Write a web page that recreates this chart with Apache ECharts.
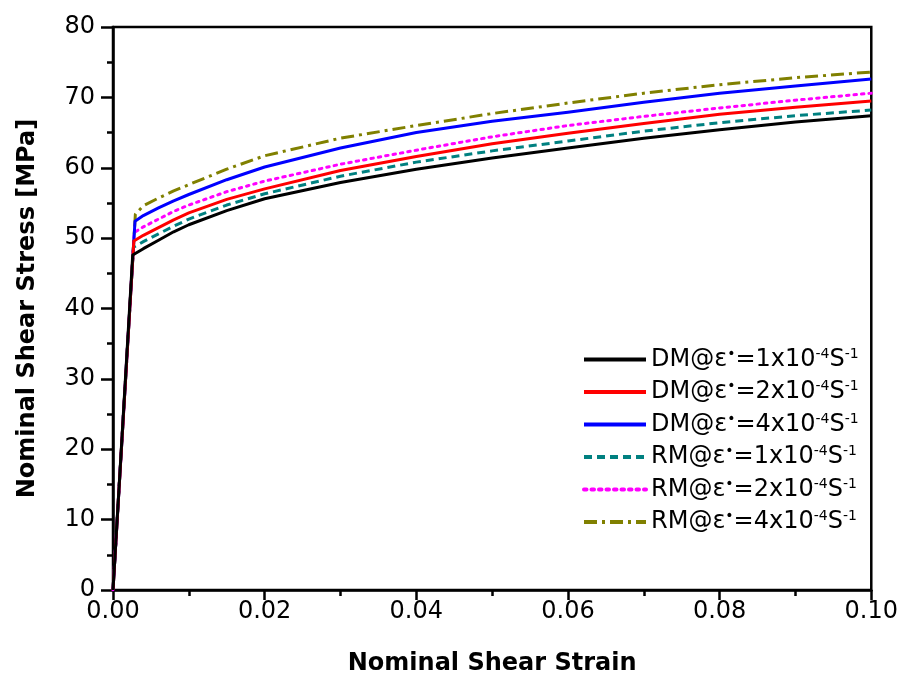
<!DOCTYPE html>
<html><head><meta charset="utf-8">
<script src="https://cdn.jsdelivr.net/npm/echarts@6/dist/echarts.min.js"></script>
<style>html,body{margin:0;padding:0;background:#fff}#c{width:901px;height:684px}</style>
</head><body><div id="c"></div>
<script>
// shared strain points after yield
const strain = [0.004, 0.006, 0.008, 0.01, 0.015, 0.02, 0.03, 0.04, 0.05, 0.06, 0.07, 0.08, 0.09, 0.1];
const seriesNames = ['DM 1e-4', 'DM 2e-4', 'DM 4e-4', 'RM 1e-4', 'RM 2e-4', 'RM 4e-4'];
const legendModel = ['DM', 'DM', 'DM', 'RM', 'RM', 'RM'];
const legendRate = ['1', '2', '4', '1', '2', '4'];
// yield (knee) points
const kneeStrain = [0.0026, 0.00275, 0.0029, 0.0027, 0.0028, 0.00295];
const kneeStress = [47.6, 49.6, 52.4, 48.7, 50.8, 53.4];
// stresses at the shared strain points
const dm1 = [48.5, 49.7, 50.9, 51.9, 53.9, 55.6, 57.9, 59.8, 61.4, 62.8, 64.2, 65.4, 66.5, 67.4];
const dm2 = [50.4, 51.5, 52.6, 53.6, 55.5, 57.0, 59.6, 61.6, 63.4, 64.9, 66.3, 67.6, 68.6, 69.5];
const dm4 = [53.2, 54.3, 55.3, 56.2, 58.3, 60.1, 62.8, 65.0, 66.6, 67.9, 69.3, 70.6, 71.6, 72.6];
const rm1 = [49.5, 50.6, 51.7, 52.7, 54.7, 56.3, 58.8, 60.8, 62.4, 63.8, 65.2, 66.4, 67.4, 68.2];
const rm2 = [51.6, 52.7, 53.8, 54.7, 56.6, 58.1, 60.5, 62.5, 64.4, 66.0, 67.3, 68.5, 69.6, 70.6];
const rm4 = [54.6, 55.7, 56.7, 57.6, 59.8, 61.7, 64.2, 66.0, 67.7, 69.2, 70.6, 71.8, 72.8, 73.6];
const allVals = [dm1, dm2, dm4, rm1, rm2, rm4];
const xTicks = { min: 0, max: 0.1, interval: 0.02 };
const yTicks = { min: 0, max: 80, interval: 10 };

const colors = ['#000000', '#ff0000', '#0000ff', '#008080', '#ff00ff', '#808000'];
const dashes = ['solid', 'solid', 'solid', [8, 5], [2.5, 5], [13, 5, 3, 5]];
const FONT = 'DejaVu Sans';

const series = allVals.map((vals, i) => ({
  name: seriesNames[i],
  type: 'line',
  symbol: 'none',
  smooth: false,
  z: 10 - i,
  lineStyle: { color: colors[i], width: 3, type: dashes[i], cap: i === 4 ? 'round' : 'butt', join: 'round' },
  itemStyle: { color: colors[i] },
  data: [[0, 0], [kneeStrain[i], kneeStress[i]]].concat(strain.map((s, j) => [s, vals[j]]))
}));

const chart = echarts.init(document.getElementById('c'), null, { renderer: 'canvas' });
const axisFont = { fontFamily: FONT, fontSize: 24, color: '#000' };
const titleFont = { fontFamily: FONT, fontSize: 24, fontWeight: 'bold', color: '#000' };
chart.setOption({
  backgroundColor: '#fff',
  animation: false,
  grid: { left: 113, right: 29, top: 27, bottom: 94, show: true, borderColor: '#000', borderWidth: 2.5, backgroundColor: 'transparent' },
  xAxis: {
    type: 'value', min: xTicks.min, max: xTicks.max, interval: xTicks.interval,
    name: 'Nominal Shear Strain', nameLocation: 'middle', nameGap: 62,
    nameTextStyle: titleFont,
    axisLine: { show: true, onZero: false, lineStyle: { color: '#000', width: 2.5 } },
    axisTick: { show: true, inside: false, length: 10, lineStyle: { color: '#000', width: 2.5 } },
    minorTick: { show: true, splitNumber: 2, length: 6, lineStyle: { color: '#000', width: 2.5 } },
    axisLabel: Object.assign({ margin: 10, formatter: v => v.toFixed(2) }, axisFont),
    splitLine: { show: false }
  },
  yAxis: {
    type: 'value', min: yTicks.min, max: yTicks.max, interval: yTicks.interval,
    name: 'Nominal Shear Stress [MPa]', nameLocation: 'middle', nameGap: 73,
    nameTextStyle: titleFont,
    axisLine: { show: true, onZero: false, lineStyle: { color: '#000', width: 2.5 } },
    axisTick: { show: true, inside: false, length: 12, lineStyle: { color: '#000', width: 2.5 } },
    minorTick: { show: true, splitNumber: 2, length: 6, lineStyle: { color: '#000', width: 2.5 } },
    axisLabel: Object.assign({ margin: 18 }, axisFont),
    splitLine: { show: false }
  },
  legend: {
    orient: 'vertical', left: 582, top: 347, padding: 0, itemGap: 8, itemWidth: 62, itemHeight: 25,
    itemStyle: { opacity: 0, borderWidth: 0 },
    lineStyle: { width: 4 },
    data: seriesNames,
    formatter: function (name) {
      const i = seriesNames.indexOf(name);
      return '{a|' + legendModel[i] + '@ε}{s|•}{a|=' + legendRate[i] + 'x10}{s|-4}{a|S}{s|-1}';
    },
    textStyle: {
      fontFamily: FONT, fontSize: 24, color: '#000',
      rich: {
        a: { fontFamily: FONT, fontSize: 24, color: '#000', lineHeight: 25 },
        s: { fontFamily: FONT, fontSize: 14, color: '#000', verticalAlign: 'top', lineHeight: 13 }
      }
    }
  },
  series: series
});
</script></body></html>
